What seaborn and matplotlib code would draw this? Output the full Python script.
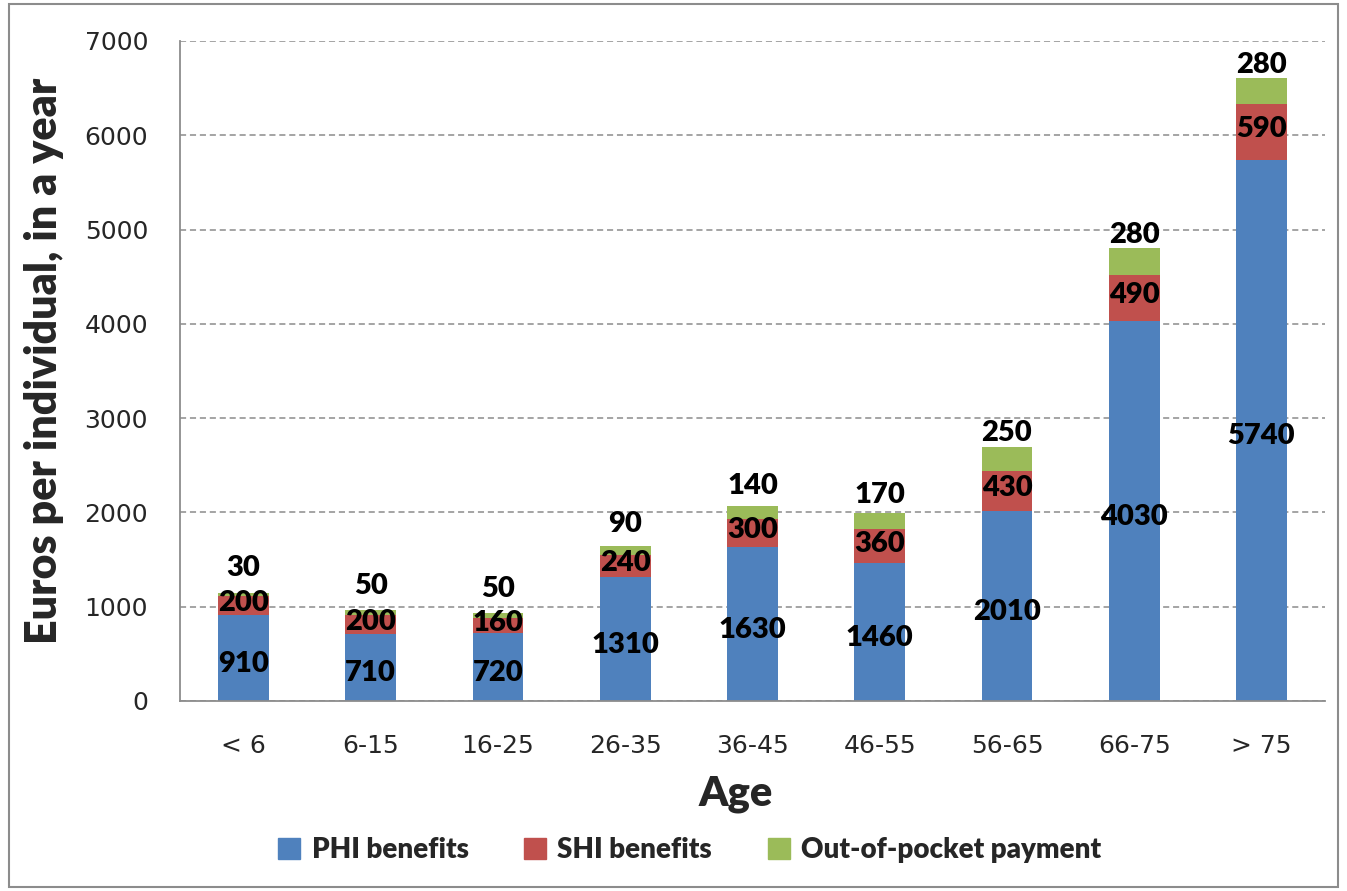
import numpy as np
import pandas as pd
import matplotlib.pyplot as plt
import matplotlib.patches as mpatches
import seaborn as sns

# datos
ages = ["< 6", "6-15", "16-25", "26-35", "36-45", "46-55", "56-65", "66-75", "> 75"]
phi = [910, 710, 720, 1310, 1630, 1460, 2010, 4030, 5740]
shi = [200, 200, 160, 240, 300, 360, 430, 490, 590]
oop = [30, 50, 50, 90, 140, 170, 250, 280, 280]
series_names = ["PHI benefits", "SHI benefits", "Out-of-pocket payment"]
colors = ["#4F81BD", "#C0504D", "#9BBB59"]

sns.set_style("white")
plt.rcParams['font.family'] = ['DejaVu Sans']

df = pd.DataFrame({"age": ages, "phi": phi, "shi": shi, "oop": oop})
df["b_shi"] = df["phi"]
df["b_oop"] = df["phi"] + df["shi"]

fig = plt.figure(figsize=(13.47, 8.91), dpi=100)
ax = fig.add_axes([0.1336, 0.2133, 0.8501, 0.7407])

bar_kw = dict(width=0.4, ax=ax, saturation=1, linewidth=0)
sns.barplot(data=df, x="age", y="phi", color=colors[0], **bar_kw)
sns.barplot(data=df, x="age", y="shi", bottom=df["b_shi"], color=colors[1], **bar_kw)
sns.barplot(data=df, x="age", y="oop", bottom=df["b_oop"], color=colors[2], **bar_kw)

bold = "heavy"
lab_font = dict(fontfamily="Lato", fontweight=bold, fontsize=21, color="black", ha="center", va="center")
for i in range(len(ages)):
    ax.annotate(str(phi[i]), (i, phi[i] / 2), xytext=(0, -4), textcoords="offset points", **lab_font)
    ax.annotate(str(shi[i]), (i, phi[i] + shi[i] / 2), xytext=(0, 2), textcoords="offset points", **lab_font)
    ax.annotate(str(oop[i]), (i, phi[i] + shi[i] + oop[i] / 2), xytext=(0, 19), textcoords="offset points", **lab_font)

ax.set_xlim(-0.5, len(ages) - 0.5)
ax.set_ylim(0, 7000)
ax.set_yticks(np.arange(0, 7001, 1000))
ax.yaxis.grid(True, linestyle=(0, (4, 2.5)), color="#8c8c8c", linewidth=1.1)
ax.set_axisbelow(True)

for s in ["top", "right"]:
    ax.spines[s].set_visible(False)
for s in ["left", "bottom"]:
    ax.spines[s].set_color("#8c8c8c")
    ax.spines[s].set_linewidth(1.3)

ax.tick_params(axis="y", which="major", length=7, color="#8c8c8c", labelsize=18, pad=16)
ax.set_xticks(np.arange(len(ages)))
ax.set_xticklabels(ages)
ax.set_xticks(np.arange(-0.5, len(ages)), minor=True)
ax.tick_params(axis="x", which="major", length=0, labelsize=18, pad=24)
ax.tick_params(axis="x", which="minor", length=7, color="#8c8c8c", width=1.3)

ax.set_xlabel("Age", fontfamily="Lato", fontweight=bold, fontsize=30)
ax.xaxis.set_label_coords(0.485, -0.112)
ax.set_ylabel("Euros per individual, in a year", fontfamily="Lato", fontweight=bold, fontsize=31)
ax.yaxis.set_label_coords(-0.101, 0.515)

handles = [mpatches.Patch(color=c, label=n) for c, n in zip(colors, series_names)]
fig.legend(handles=handles, loc="center", bbox_to_anchor=(0.512, 0.046), ncol=3, frameon=False,
           prop={"family": "Lato", "weight": bold, "size": 20},
           handlelength=0.8, handleheight=0.8, handletextpad=0.4, columnspacing=2.0)

border = mpatches.Rectangle((0.007, 0.004), 0.986, 0.992, transform=fig.transFigure,
                            fill=False, edgecolor="#8c8c8c", linewidth=1.5)
fig.patches.append(border)

fig.savefig("out.png", dpi=100)
